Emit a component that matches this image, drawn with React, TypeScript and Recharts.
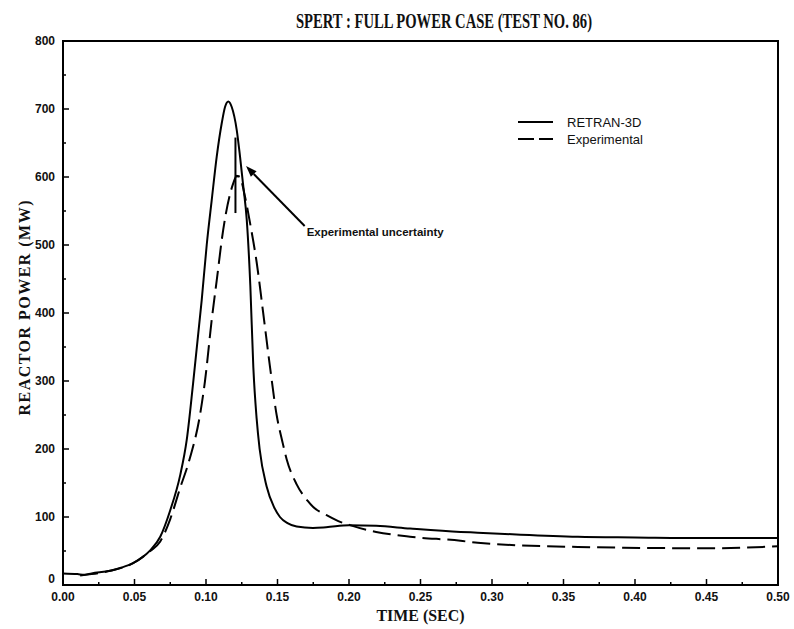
import { Label, Legend, Line, LineChart, ReferenceArea, ReferenceLine, XAxis, YAxis } from 'recharts';

const retranTime = [
  0, 0.01, 0.015, 0.02, 0.033, 0.04, 0.049, 0.055, 0.061, 0.068, 0.075, 0.082, 0.0865, 0.091, 0.097,
  0.1005, 0.104, 0.1075, 0.111, 0.1133, 0.1156, 0.118, 0.1215, 0.1238, 0.1261, 0.1285, 0.131, 0.1331,
  0.1354, 0.1375, 0.1424, 0.1475, 0.1517, 0.157, 0.1634, 0.1748, 0.184, 0.2, 0.219, 0.2427, 0.278,
  0.29, 0.32, 0.36, 0.4, 0.45, 0.5,
];
const retranPower = [
  17, 16, 15, 17, 21, 25, 32, 40, 51, 71, 110, 162, 213, 297, 419,
  500, 566, 630, 679, 703, 711, 703, 669, 630, 586, 537, 440, 320,
  245, 200, 145, 115, 100, 91, 86, 84, 85, 88, 87, 83, 78,
  77, 74, 71, 70, 69, 69,
];

const expTime = [
  0.012, 0.02, 0.033, 0.049, 0.061, 0.068, 0.075, 0.0818, 0.0888, 0.0958, 0.0993, 0.104, 0.1075,
  0.112, 0.1191, 0.1215, 0.1245, 0.1273, 0.131, 0.1354, 0.14, 0.1448, 0.1494, 0.1535, 0.1564, 0.1634,
  0.171, 0.1748, 0.184, 0.1925, 0.2007, 0.2124, 0.219, 0.2427, 0.278, 0.29, 0.36, 0.455, 0.5,
];
const expPower = [
  14, 16, 21, 32, 50, 64, 97, 142, 187, 250, 300, 390, 448,
  522, 591, 602, 595, 571, 530, 475, 400, 320, 250, 210, 185, 148,
  124, 115, 103, 94, 88, 81, 78, 71, 65, 62, 56, 54, 57,
];

// uncertainty bar on the measured peak
const uncTime = 0.1206;
const uncLow = 547;
const uncHigh = 658;
const uncMid = 601;

const xTicks = [
  0, 0.025, 0.05, 0.075, 0.1, 0.125, 0.15, 0.175, 0.2, 0.225, 0.25, 0.275, 0.3, 0.325, 0.35, 0.375, 0.4,
  0.425, 0.45, 0.475, 0.5,
];
const xTickLabels = ['0.00', '0.05', '0.10', '0.15', '0.20', '0.25', '0.30', '0.35', '0.40', '0.45', '0.50'];
const yTicks = [0, 50, 100, 150, 200, 250, 300, 350, 400, 450, 500, 550, 600, 650, 700, 750, 800];

const retranData = retranTime.map((t, i) => ({ t, p: retranPower[i] }));
const expData = expTime.map((t, i) => ({ t, p: expPower[i] }));

const tickFont = { fontFamily: 'Liberation Sans, Arial, sans-serif', fontWeight: 700, fontSize: 12, fill: '#111' };

const XTick = (props: any) => {
  const { x, y, payload } = props;
  const v = payload.value as number;
  const major = Math.abs(v * 20 - Math.round(v * 20)) < 1e-6;
  const idx = Math.round(v * 20);
  return (
    <g>
      <line x1={x} y1={y} x2={x} y2={y - (major ? 6 : 3)} stroke="#000" strokeWidth={1.5} />
      {major && (
        <text x={x} y={y + 16} textAnchor="middle" {...tickFont}>
          {xTickLabels[idx]}
        </text>
      )}
    </g>
  );
};

const YTick = (props: any) => {
  const { x, y, payload } = props;
  const v = payload.value as number;
  const major = v % 100 === 0;
  return (
    <g>
      <line x1={x} y1={y} x2={x + (major ? 6 : 3)} y2={y} stroke="#000" strokeWidth={1.5} />
      {major && (
        <text x={x - 8} y={v === 0 ? y - 2 : y + 4} textAnchor="end" {...tickFont}>
          {v}
        </text>
      )}
    </g>
  );
};

const LegendBox = () => (
  <svg width={170} height={44}>
    <line x1={8} y1={12} x2={43} y2={12} stroke="#000" strokeWidth={2} />
    <text x={57} y={17} fontFamily="Liberation Sans, Arial, sans-serif" fontWeight={500} fontSize={13} fill="#111">
      RETRAN-3D
    </text>
    <line x1={8} y1={29} x2={43} y2={29} stroke="#000" strokeWidth={2} strokeDasharray="16 5 14" />
    <text x={57} y={34} fontFamily="Liberation Sans, Arial, sans-serif" fontWeight={500} fontSize={13} fill="#111">
      Experimental
    </text>
  </svg>
);

const ArrowNote = (props: any) => {
  const { x1, y1, x2, y2 } = props;
  const dx = x2 - x1;
  const dy = y2 - y1;
  const len = Math.sqrt(dx * dx + dy * dy) || 1;
  const ux = dx / len;
  const uy = dy / len;
  const bx = x2 - ux * 11;
  const by = y2 - uy * 11;
  return (
    <g>
      <line x1={x1} y1={y1} x2={bx} y2={by} stroke="#000" strokeWidth={2} />
      <polygon
        points={`${x2},${y2} ${bx - uy * 4},${by + ux * 4} ${bx + uy * 4},${by - ux * 4}`}
        fill="#000"
      />
      <text
        x={x1 + 2}
        y={y1 + 10}
        fontFamily="Liberation Sans, Arial, sans-serif"
        fontWeight={700}
        fontSize={10}
        textLength={137}
        lengthAdjust="spacingAndGlyphs"
        fill="#111"
      >
        Experimental uncertainty
      </text>
    </g>
  );
};

export default function App() {
  return (
    <div style={{ position: 'absolute', left: 0, top: 0, width: 794, height: 629, background: '#fff' }}>
      <svg width={794} height={40} style={{ position: 'absolute', left: 0, top: 0 }}>
        <text
          x={444}
          y={28}
          textAnchor="middle"
          fontFamily="Liberation Serif, Times New Roman, serif"
          fontWeight={700}
          fontSize={21}
          textLength={296}
          lengthAdjust="spacingAndGlyphs"
          fill="#111"
        >
          SPERT : FULL POWER CASE (TEST NO. 86)
        </text>
      </svg>
      <LineChart width={794} height={629} margin={{ top: 41, right: 16, bottom: 0, left: 0 }}>
        <XAxis
          type="number"
          dataKey="t"
          domain={[0, 0.5]}
          ticks={xTicks}
          interval={0}
          height={44}
          tickSize={0}
          tickMargin={0}
          tickLine={false}
          axisLine={false}
          tick={<XTick />}
        >
          <Label
            content={(p: any) => {
              const vb = p.viewBox;
              return (
                <text
                  x={vb.x + vb.width / 2}
                  y={vb.y + 36}
                  textAnchor="middle"
                  fontFamily="Liberation Serif, Times New Roman, serif"
                  fontWeight={700}
                  fontSize={16}
                  textLength={88}
                  lengthAdjust="spacingAndGlyphs"
                  fill="#111"
                >
                  TIME (SEC)
                </text>
              );
            }}
          />
        </XAxis>
        <YAxis
          type="number"
          domain={[0, 800]}
          ticks={yTicks}
          interval={0}
          width={63}
          tickSize={0}
          tickMargin={0}
          tickLine={false}
          axisLine={false}
          tick={<YTick />}
        >
          <Label
            content={() => (
              <text
                x={30}
                y={308}
                transform="rotate(-90 30 308)"
                textAnchor="middle"
                fontFamily="Liberation Serif, Times New Roman, serif"
                fontWeight={700}
                fontSize={16}
                textLength={215}
                lengthAdjust="spacing"
                fill="#111"
              >
                REACTOR POWER (MW)
              </text>
            )}
          />
        </YAxis>
        <ReferenceArea x1={0} x2={0.5} y1={0} y2={800} fill="none" fillOpacity={0} stroke="#000" strokeWidth={2} />
        <Line
          data={retranData}
          dataKey="p"
          type="monotone"
          stroke="#000"
          strokeWidth={2}
          dot={false}
          isAnimationActive={false}
          name="RETRAN-3D"
        />
        <Line
          data={expData}
          dataKey="p"
          type="monotone"
          stroke="#000"
          strokeWidth={2}
          strokeDasharray="18 7"
          dot={false}
          isAnimationActive={false}
          name="Experimental"
        />
        <ReferenceLine
          segment={[
            { x: uncTime, y: uncLow },
            { x: uncTime, y: uncHigh },
          ]}
          stroke="#000"
          strokeWidth={2}
        />
        <ReferenceLine
          segment={[
            { x: uncTime, y: uncMid },
            { x: uncTime + 0.003, y: uncMid },
          ]}
          stroke="#000"
          strokeWidth={2}
        />
        <ReferenceLine
          segment={[
            { x: 0.169, y: 528 },
            { x: 0.128, y: 616 },
          ]}
          shape={<ArrowNote />}
        />
        <Legend
          layout="horizontal"
          verticalAlign="middle"
          align="center"
          content={<LegendBox />}
          wrapperStyle={{ left: 510, top: 110, width: 170, height: 44 }}
        />
      </LineChart>
    </div>
  );
}
